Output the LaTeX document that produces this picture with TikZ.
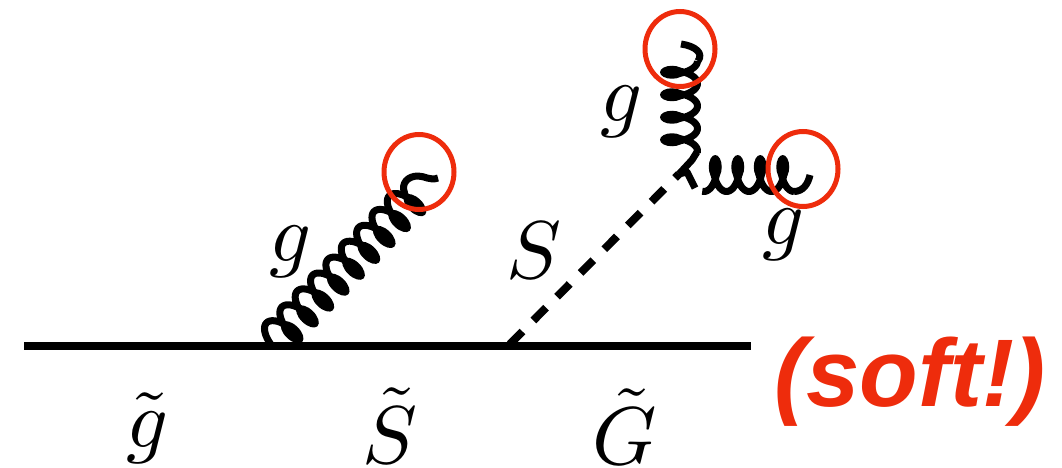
\documentclass[tikz,border=0pt]{standalone}
\usepackage{fontspec}
\newfontfamily\softfont{Liberation Sans}
\definecolor{softred}{RGB}{238,44,12}
\usetikzlibrary{shapes.geometric}
\tikzset{
  wire/.style={line width=8.5pt,black},
  coilline/.style={line width=7pt,black,line join=round,line cap=butt},
  dashline/.style={line width=8pt,black,dash pattern=on 18pt off 15.5pt,dash phase=31pt},
  softring/.style={draw=softred,line width=5pt,ellipse,minimum width=70pt,minimum height=75pt,inner sep=0pt},
  lab/.style={scale=8.2,inner sep=0pt,anchor=base}
}
\begin{document}
\begin{tikzpicture}[x=1pt,y=-1pt]
\useasboundingbox (0,0) rectangle (1062,468);
\coordinate (wL) at (24,346);
\coordinate (wR) at (751,346);
\coordinate (sv) at (508,346);
\coordinate (tv) at (679,174);
\coordinate (o1) at (278,334);
\coordinate (o2) at (681,151);
\coordinate (o3) at (704,176);
\coordinate (e1a) at (404.4,192.5);
\coordinate (e1c) at (418,176);
\coordinate (e1b) at (438,178);
\coordinate (e2a) at (698,61);
\coordinate (e2b) at (681,44);
\coordinate (e3a) at (794,191.5);
\coordinate (e3b) at (810,175);
\draw[wire] (wL) -- (wR);
\draw[dashline] (sv) -- (tv);
\begin{scope}[shift={(o1)},rotate=46,x=1pt,y=1pt]
\draw[coilline] plot[domain=-110:3180,samples=300,variable=\t] ({\t/360*22.1+6.5*sin(\t)},{16*cos(\t)});
\foreach \k in {0,...,8} \fill ({(\k+0.5)*22.1},-9) ellipse [x radius=7.5,y radius=14];
\end{scope}
\draw[coilline] (e1a) .. controls (401,183) and (408,176) .. (e1c) .. controls (425,176) and (430,181) .. (e1b);
\begin{scope}[shift={(o2)},rotate=90,x=1pt,y=1pt]
\draw[coilline] plot[domain=-10:1440,samples=150,variable=\t] ({\t/360*22.5+6.5*sin(\t)},{-16.5*cos(\t)});
\foreach \k in {0,...,3} \fill ({(\k+0.5)*22.5},9) ellipse [x radius=6.5,y radius=12];
\end{scope}
\draw[coilline] (e2a) .. controls (704,53) and (695,46) .. (e2b);
\draw[coilline] (tv) -- (692,160) -- (697,152);
\begin{scope}[shift={(o3)},x=1pt,y=1pt]
\draw[coilline] plot[domain=-10:1440,samples=150,variable=\t] ({\t/360*22.5+6.5*sin(\t)},{-15.5*cos(\t)});
\foreach \k in {0,...,3} \fill ({(\k+0.5)*22.5},9) ellipse [x radius=6.5,y radius=12];
\end{scope}
\draw[coilline] (tv) -- (687,172) -- (695,188);
\draw[coilline] (e3a) .. controls (803,191.5) and (808,184) .. (e3b);
\node[softring] (r1) at (419,172) {};
\node[softring] (r2) at (680,49) {};
\node[softring] (r3) at (803,169) {};
\node[lab] (lg1) at (291,261) {$g$};
\node[lab] (lS) at (534,278) {$S$};
\node[lab] (lg2) at (622,121) {$g$};
\node[lab] (lg3) at (784,244) {$g$};
\node[lab] (lgt) at (148,447) {$\tilde g$};
\node[lab] (lSt) at (390,463) {$\tilde S$};
\node[lab] (lGt) at (625,464) {$\tilde G$};
\node[inner sep=0pt,anchor=base,text=softred,font=\softfont\bfseries\itshape\fontsize{96}{96}\selectfont] (soft) at (910,406) {(soft!)};
\end{tikzpicture}
\end{document}
